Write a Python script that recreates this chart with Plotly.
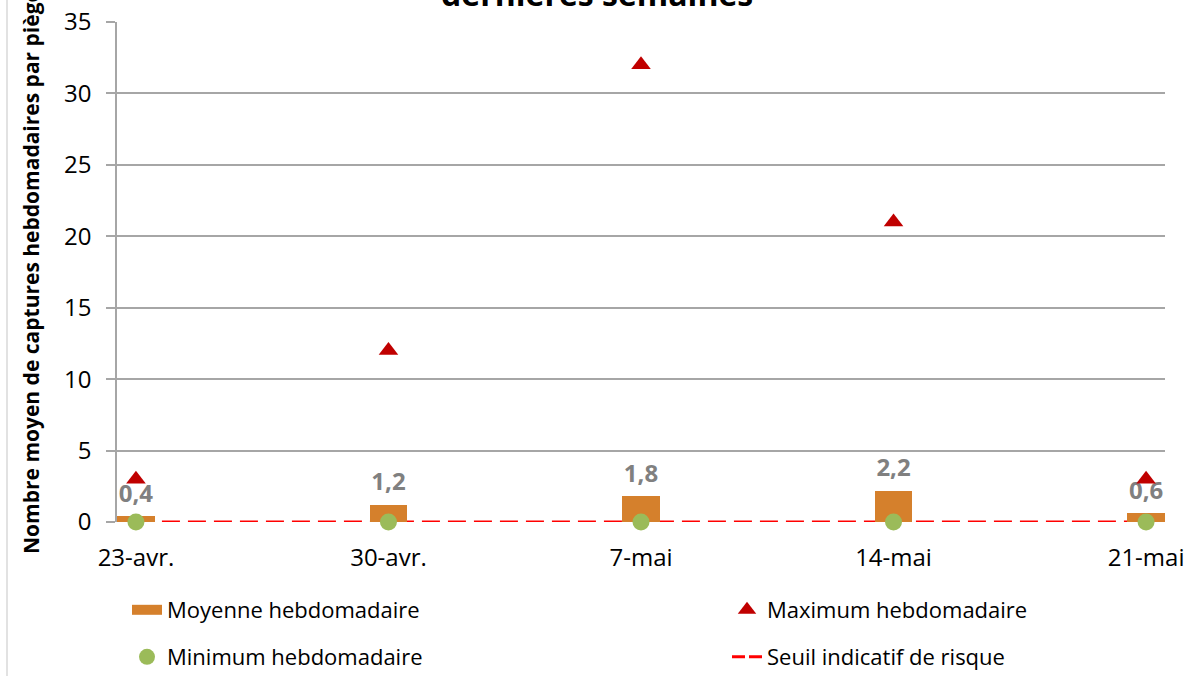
import plotly.graph_objects as go

# ---- data ----
categories = ["23-avr.", "30-avr.", "7-mai", "14-mai", "21-mai"]
moyenne = [0.4, 1.2, 1.8, 2.2, 0.6]
maximum = [3, 12, 32, 21, 3]
minimum = [0, 0, 0, 0, 0]
seuil = [0, 0, 0, 0, 0]
y_ticks = [0, 5, 10, 15, 20, 25, 30, 35]

x = list(range(len(categories)))

W, H = 1187, 676
L, R, T, B = 117, 22, 22, 154
PW, PH = W - L - R, H - T - B
FONT = "Open Sans"

ORANGE = "#D5802C"
RED_TRI = "#C00000"
GREEN = "#9BBB59"
GRID = "#A6A6A6"

fig = go.Figure()

# threshold line on the base axes (drawn below bars)
fig.add_trace(go.Scatter(
    x=x, y=seuil, mode="lines", name="Seuil indicatif de risque",
    line=dict(color="#FF0000", width=3, dash="18px,8px"),
    showlegend=False, cliponaxis=False, hoverinfo="skip",
))

# bars on overlaying axes
fig.add_trace(go.Bar(
    x=x, y=moyenne, name="Moyenne hebdomadaire", width=0.15,
    marker=dict(color=ORANGE, line=dict(width=0)),
    cliponaxis=False, showlegend=False,
    xaxis="x2", yaxis="y2",
))
# data labels of the bars
fig.add_trace(go.Scatter(
    x=x, y=moyenne, mode="markers+text", showlegend=False,
    marker=dict(size=12, color="rgba(0,0,0,0)"),
    texttemplate="%{y:.1f}", textposition="top center",
    textfont=dict(family=FONT, size=24, color="#808080", weight="bold"),
    cliponaxis=False, hoverinfo="skip",
    xaxis="x2", yaxis="y2",
))
# legend proxy for the bar (wide rectangle swatch)
fig.add_trace(go.Scatter(
    x=[None], y=[None], mode="lines", name="Moyenne hebdomadaire",
    line=dict(color=ORANGE, width=17), legend="legend",
    xaxis="x2", yaxis="y2",
))
fig.add_trace(go.Scatter(
    x=x, y=maximum, mode="markers", name="Maximum hebdomadaire",
    marker=dict(symbol="triangle-up", size=17, color=RED_TRI),
    cliponaxis=False, legend="legend2",
    xaxis="x2", yaxis="y2",
))
fig.add_trace(go.Scatter(
    x=x, y=minimum, mode="markers", name="Minimum hebdomadaire",
    marker=dict(symbol="circle", size=17, color=GREEN),
    cliponaxis=False, legend="legend3",
    xaxis="x2", yaxis="y2",
))
# legend proxy for the threshold line
fig.add_trace(go.Scatter(
    x=[None], y=[None], mode="lines", name="Seuil indicatif de risque",
    line=dict(color="#FF0000", width=3, dash="13px,4px"), legend="legend4",
    xaxis="x2", yaxis="y2",
))

xr = [-0.075, 4.075]
yr = [0, 35]


def leg(xpx, ypx):
    return dict(
        orientation="v", xref="container", yref="container",
        x=xpx / W, y=1 - ypx / H, xanchor="left", yanchor="top",
        font=dict(family=FONT, size=22, color="black"),
        bgcolor="rgba(0,0,0,0)", borderwidth=0,
    )


fig.update_layout(
    width=W, height=H,
    margin=dict(l=L, r=R, t=T, b=B, autoexpand=False),
    paper_bgcolor="white", plot_bgcolor="white",
    separators=", ",
    font=dict(family=FONT, size=22, color="black"),
    bargap=0,
    xaxis=dict(
        range=xr, tickmode="array", tickvals=x, ticktext=categories,
        showgrid=False, zeroline=False, showline=False,
        ticks="", ticklabelstandoff=19,
        tickfont=dict(family=FONT, size=24, color="black"),
    ),
    yaxis=dict(
        range=yr, tickmode="array", tickvals=y_ticks,
        showgrid=True, gridcolor=GRID, gridwidth=1.5, zeroline=False,
        showline=True, linecolor=GRID, linewidth=1.5,
        ticks="outside", ticklen=9, tickcolor=GRID, tickwidth=1.5,
        ticklabelstandoff=10,
        tickfont=dict(family=FONT, size=24, color="black"),
    ),
    xaxis2=dict(range=xr, overlaying="x", visible=False),
    yaxis2=dict(range=yr, overlaying="y", visible=False),
    legend=leg(127, 589),
    legend2=leg(727, 589),
    legend3=leg(127, 636),
    legend4=leg(727, 636),
    showlegend=True,
    annotations=[
        dict(
            text="<b>dernières semaines</b>", xref="paper", yref="paper",
            x=(597 - L) / PW, y=1.056, xanchor="center", yanchor="middle",
            showarrow=False, font=dict(family=FONT, size=32, color="black"),
        ),
        dict(
            text="<b>Nombre moyen de captures hebdomadaires par piège</b>",
            xref="paper", yref="paper", textangle=-90,
            x=(31 - L) / PW, y=0.5, xanchor="center", yanchor="middle",
            showarrow=False, font=dict(family=FONT, size=21, color="black"),
        ),
    ],
    shapes=[dict(
        type="line", xref="paper", yref="paper",
        x0=(7 - L) / PW, x1=(7 - L) / PW,
        y0=-B / PH, y1=1 + T / PH,
        line=dict(color="#D9D9D9", width=1.5),
    )],
)

fig.write_html(
    "out.html",
    config={"displayModeBar": False},
    post_script="document.body.style.margin='0';document.body.style.overflow='hidden';",
)
